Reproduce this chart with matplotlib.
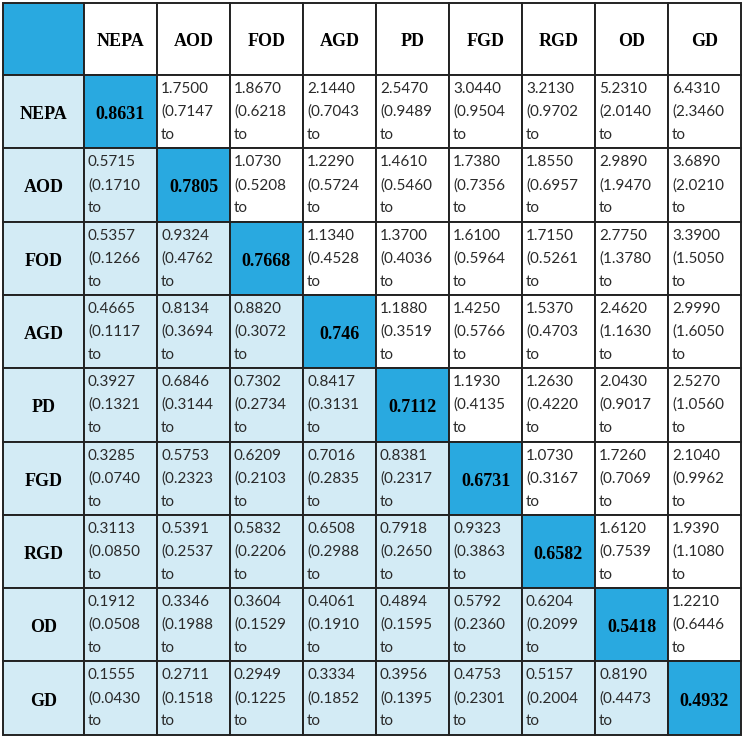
import matplotlib.pyplot as plt
from matplotlib.patches import Rectangle

labels = ['NEPA', 'AOD', 'FOD', 'AGD', 'PD', 'FGD', 'RGD', 'OD', 'GD']

diag = ['0.8631', '0.7805', '0.7668', '0.746', '0.7112', '0.6731', '0.6582', '0.5418', '0.4932']

# point estimates (row vs column), None on the diagonal
est = [
    [None, '1.7500', '1.8670', '2.1440', '2.5470', '3.0440', '3.2130', '5.2310', '6.4310'],
    ['0.5715', None, '1.0730', '1.2290', '1.4610', '1.7380', '1.8550', '2.9890', '3.6890'],
    ['0.5357', '0.9324', None, '1.1340', '1.3700', '1.6100', '1.7150', '2.7750', '3.3900'],
    ['0.4665', '0.8134', '0.8820', None, '1.1880', '1.4250', '1.5370', '2.4620', '2.9990'],
    ['0.3927', '0.6846', '0.7302', '0.8417', None, '1.1930', '1.2630', '2.0430', '2.5270'],
    ['0.3285', '0.5753', '0.6209', '0.7016', '0.8381', None, '1.0730', '1.7260', '2.1040'],
    ['0.3113', '0.5391', '0.5832', '0.6508', '0.7918', '0.9323', None, '1.6120', '1.9390'],
    ['0.1912', '0.3346', '0.3604', '0.4061', '0.4894', '0.5792', '0.6204', None, '1.2210'],
    ['0.1555', '0.2711', '0.2949', '0.3334', '0.3956', '0.4753', '0.5157', '0.8190', None],
]

# lower bound of the interval (the text is cut after "to" in the source)
lower = [
    [None, '0.7147', '0.6218', '0.7043', '0.9489', '0.9504', '0.9702', '2.0140', '2.3460'],
    ['0.1710', None, '0.5208', '0.5724', '0.5460', '0.7356', '0.6957', '1.9470', '2.0210'],
    ['0.1266', '0.4762', None, '0.4528', '0.4036', '0.5964', '0.5261', '1.3780', '1.5050'],
    ['0.1117', '0.3694', '0.3072', None, '0.3519', '0.5766', '0.4703', '1.1630', '1.6050'],
    ['0.1321', '0.3144', '0.2734', '0.3131', None, '0.4135', '0.4220', '0.9017', '1.0560'],
    ['0.0740', '0.2323', '0.2103', '0.2835', '0.2317', None, '0.3167', '0.7069', '0.9962'],
    ['0.0850', '0.2537', '0.2206', '0.2988', '0.2650', '0.3863', None, '0.7539', '1.1080'],
    ['0.0508', '0.1988', '0.1529', '0.1910', '0.1595', '0.2360', '0.2099', None, '0.6446'],
    ['0.0430', '0.1518', '0.1225', '0.1852', '0.1395', '0.2301', '0.2004', '0.4473', None],
]

blue = '#29a9e0'
light = '#d3ebf5'
edge = '#222222'

fig = plt.figure(figsize=(7.42, 7.38), dpi=100)
ax = fig.add_axes([0, 0, 1, 1])
ax.set_xlim(0, 742)
ax.set_ylim(738, 0)
ax.axis('off')

# grid geometry in pixels
x0, first_w, col_w = 3, 81, 73
y0, head_h, row_h = 3, 72, 73.3
n = len(labels)
xs = [x0] + [x0 + first_w + col_w * i for i in range(n + 1)]
ys = [y0] + [y0 + head_h + row_h * i for i in range(n + 1)]

serif = dict(family='Liberation Serif', fontweight='bold', fontsize=13, color='black')
sans = dict(family=['Lato', 'DejaVu Sans'], fontsize=11, color='#2a2a2a')


def cell(r, c, color):
    ax.add_patch(Rectangle((xs[c], ys[r]), xs[c + 1] - xs[c], ys[r + 1] - ys[r],
                           facecolor=color, edgecolor=edge, linewidth=1.4))


# header row
cell(0, 0, blue)
for j, lab in enumerate(labels):
    cell(0, j + 1, 'white')
    ax.text((xs[j + 1] + xs[j + 2]) / 2, (ys[0] + ys[1]) / 2 + 3, lab,
            ha='center', va='center', **serif)

for i, lab in enumerate(labels):
    r = i + 1
    cell(r, 0, light)
    ax.text((xs[0] + xs[1]) / 2, (ys[r] + ys[r + 1]) / 2 + 3, lab,
            ha='center', va='center', **serif)
    for j in range(n):
        c = j + 1
        if i == j:
            cell(r, c, blue)
            ax.text((xs[c] + xs[c + 1]) / 2, (ys[r] + ys[r + 1]) / 2 + 3, diag[i],
                    ha='center', va='center', **serif)
            continue
        cell(r, c, light if j < i else 'white')
        lines = [est[i][j], '(' + lower[i][j], 'to']
        for k, t in enumerate(lines):
            ax.text(xs[c] + 4, ys[r] + 18 + 23 * k, t,
                    ha='left', va='baseline', **sans)

fig.savefig('out.png', dpi=100)
